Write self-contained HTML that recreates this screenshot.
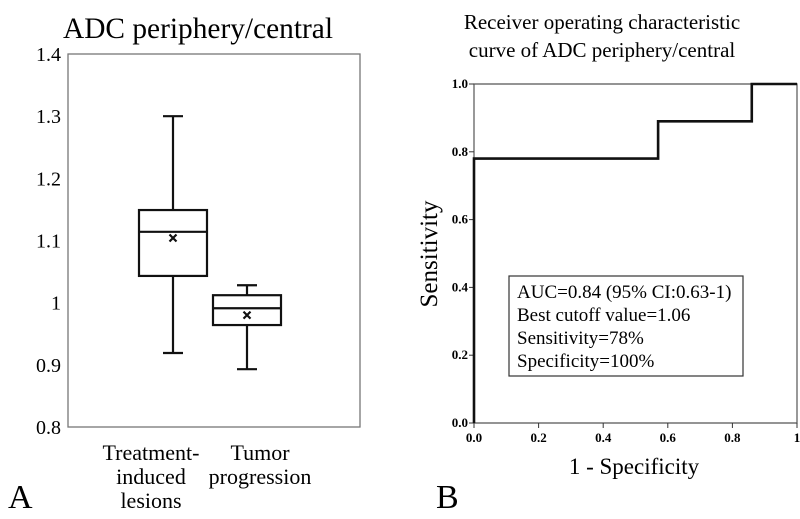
<!DOCTYPE html>
<html><head><meta charset="utf-8"><style>
html,body{margin:0;padding:0;background:#fff;}
svg{display:block;font-family:"Liberation Serif",serif;}
</style></head><body>
<svg id="fig" width="800" height="519" viewBox="0 0 800 519">
<text x="63" y="38" font-size="30" textLength="270" lengthAdjust="spacingAndGlyphs">ADC periphery/central</text>
<text x="602" y="29" font-size="21" text-anchor="middle">Receiver operating characteristic</text>
<text x="602" y="57" font-size="21" text-anchor="middle">curve of ADC periphery/central</text>
<text x="8" y="508" font-size="34">A</text>
<text x="436" y="508" font-size="34">B</text>
<g id="left"></g>
<g id="right"></g>
</svg>
<script>
const NS='http://www.w3.org/2000/svg';
function mk(tag,attrs,parent){const e=document.createElementNS(NS,tag);for(const k in attrs)e.setAttribute(k,attrs[k]);parent.appendChild(e);return e;}
// ---- Box plot data ----
const boxCategories=[["Treatment-","induced","lesions"],["Tumor","progression"]];
const boxMin=[0.919,0.893];
const boxQ1=[1.043,0.964];
const boxMedian=[1.114,0.991];
const boxQ3=[1.149,1.012];
const boxMax=[1.300,1.028];
const boxMean=[1.104,0.980];
const boxTicks=["0.8","0.9","1","1.1","1.2","1.3","1.4"];
// ---- ROC data ----
const rocX=[0,0,0.57,0.57,0.86,0.86,1];
const rocY=[0,0.78,0.78,0.89,0.89,1,1];
const rocXTicks=["0.0","0.2","0.4","0.6","0.8","1"];
const rocYTicks=["0.0","0.2","0.4","0.6","0.8","1.0"];
const legendLines=["AUC=0.84 (95% CI:0.63-1)","Best cutoff value=1.06","Sensitivity=78%","Specificity=100%"];

// left axes
const L=document.getElementById('left');
const ly=v=>427-(v-0.8)/0.6*373;
const lx=i=>173+i*74;
let r=mk('rect',{x:68,y:54,width:292,height:373,fill:'none',stroke:'#777','stroke-width':1.3},L);


boxTicks.forEach(t=>{const e=mk('text',{x:61,y:ly(+t)+7,'font-size':20,'text-anchor':'end'},L);e.textContent=t;

});
boxCategories.forEach((lines,i)=>{
 const g=mk('g',{},L);
 
 
 const c=lx(i),w=34,cap=10,st={stroke:'#111','stroke-width':2.2,fill:'none'};
 mk('line',{x1:c,x2:c,y1:ly(boxMax[i]),y2:ly(boxQ3[i]),...st},g);
 mk('line',{x1:c,x2:c,y1:ly(boxQ1[i]),y2:ly(boxMin[i]),...st},g);
 mk('line',{x1:c-cap,x2:c+cap,y1:ly(boxMax[i]),y2:ly(boxMax[i]),...st},g);
 mk('line',{x1:c-cap,x2:c+cap,y1:ly(boxMin[i]),y2:ly(boxMin[i]),...st},g);
 mk('rect',{x:c-w,y:ly(boxQ3[i]),width:2*w,height:ly(boxQ1[i])-ly(boxQ3[i]),...st},g);
 mk('line',{x1:c-w,x2:c+w,y1:ly(boxMedian[i]),y2:ly(boxMedian[i]),...st},g);
 const my=ly(boxMean[i]);
 mk('path',{d:`M${c-3.5} ${my-3.5}L${c+3.5} ${my+3.5}M${c+3.5} ${my-3.5}L${c-3.5} ${my+3.5}`,...st},g);
 const tx=i===0?151:260;
 lines.forEach((s,j)=>{const e=mk('text',{x:tx,y:460+j*24,'font-size':22,'text-anchor':'middle'},L);e.textContent=s;
 
 });
});
// right axes
const R=document.getElementById('right');
const rx=v=>474+v*323, ry=v=>423-v*339;
let a=mk('path',{d:`M474 84H797V423H474Z`,fill:'none',stroke:'#555','stroke-width':1.2},R);


rocXTicks.forEach(t=>{const x=rx(+t);mk('line',{x1:x,x2:x,y1:423,y2:428,stroke:'#333'},R);
const e=mk('text',{x:x,y:442,'font-size':13,'font-weight':'bold','text-anchor':'middle'},R);e.textContent=t;

});
rocYTicks.forEach(t=>{const y=ry(+t);mk('line',{x1:469,x2:474,y1:y,y2:y,stroke:'#333'},R);
const e=mk('text',{x:468,y:y+4,'font-size':13,'font-weight':'bold','text-anchor':'end'},R);e.textContent=t;

});
let p=mk('polyline',{points:rocX.map((x,i)=>rx(x)+','+ry(rocY[i])).join(' '),fill:'none',stroke:'#111','stroke-width':2.6},R);


let yt=mk('text',{x:0,y:0,'font-size':25,'text-anchor':'middle',transform:'translate(437,254) rotate(-90)'},R);yt.textContent='Sensitivity';


let xt=mk('text',{x:634,y:474,'font-size':23,'text-anchor':'middle'},R);xt.textContent='1 - Specificity';


const lg=mk('g',{},R);


mk('rect',{x:509,y:276,width:234,height:100,fill:'#fff',stroke:'#333','stroke-width':1.2},lg);
legendLines.forEach((s,j)=>{const e=mk('text',{x:517,y:298+j*23,'font-size':19},lg);e.textContent=s;

});
</script>
</body></html>
